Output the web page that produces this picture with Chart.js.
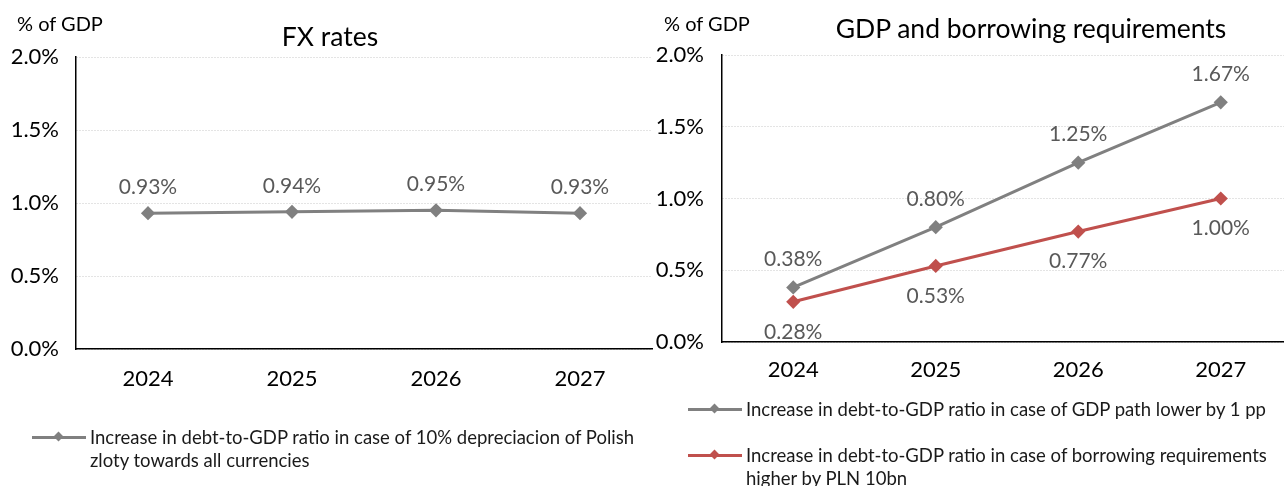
<!DOCTYPE html>
<html>
<head>
<meta charset="utf-8">
<script src="https://cdn.jsdelivr.net/npm/chart.js@4.4.1/dist/chart.umd.min.js"></script>
<style>
  html, body { margin: 0; padding: 0; background: #fff; overflow: hidden; }
  body { width: 1284px; height: 486px; position: relative; font-family: Lato, "Open Sans", sans-serif; color: #000; }
  .panel { position: absolute; top: 0; height: 486px; }
  .unit { position: absolute; font-size: 20px; }
  .title { position: absolute; font-size: 26.5px; white-space: nowrap; transform: translateX(-50%); }
  .legend-item { position: absolute; display: flex; font-size: 18.5px; line-height: 23px; color: #1a1a1a; }
  .legend-key { position: relative; width: 54px; height: 23px; flex: none; margin-right: 4px; }
  .legend-key .ln { position: absolute; left: 0; right: 0; top: 10px; height: 3px; }
  .legend-key .dm { position: absolute; left: 23px; top: 7px; width: 7px; height: 7px; transform: rotate(45deg); }
</style>
</head>
<body>
  <div class="panel" style="left:0;width:660px"><canvas id="fx-chart"></canvas></div>
  <div class="panel" style="left:640px;width:660px"><canvas id="gdp-chart"></canvas></div>

  <div class="unit" style="left:17px;top:11px">% of GDP</div>
  <div class="title" style="left:330px;top:20px">FX rates</div>
  <div class="unit" style="left:664px;top:11px">% of GDP</div>
  <div class="title" style="left:1031px;top:12px">GDP and borrowing requirements</div>

  <div class="legend-item" style="left:32px;top:426px;width:605px">
    <div class="legend-key"><div class="ln" style="background:#808080"></div><div class="dm" style="background:#808080"></div></div>
    <div>Increase in debt-to-GDP ratio in case of 10% depreciacion of Polish zloty towards all currencies</div>
  </div>
  <div class="legend-item" style="left:688px;top:398px;width:590px">
    <div class="legend-key"><div class="ln" style="background:#808080"></div><div class="dm" style="background:#808080"></div></div>
    <div>Increase in debt-to-GDP ratio in case of GDP path lower by 1 pp</div>
  </div>
  <div class="legend-item" style="left:688px;top:444px;width:580px">
    <div class="legend-key"><div class="ln" style="background:#c0504d"></div><div class="dm" style="background:#c0504d"></div></div>
    <div>Increase in debt-to-GDP ratio in case of borrowing requirements higher by PLN 10bn</div>
  </div>

<script>
// years on the x axis
const years = ['2024', '2025', '2026', '2027'];
// y axis ticks, % of GDP
const yTicks = [0, 0.5, 1.0, 1.5, 2.0];

// FX scenario
const fxDepreciation = [0.93, 0.94, 0.95, 0.93];
// GDP / borrowing scenarios
const gdpLower = [0.38, 0.80, 1.25, 1.67];
const borrowingHigher = [0.28, 0.53, 0.77, 1.00];

const GREY = '#808080';
const RED = '#c0504d';
const FONT = 'Lato, "Open Sans", sans-serif';

// writes the value next to each point, shifted by dataset.labelOffset
const valueLabels = {
    id: 'valueLabels',
    afterDatasetsDraw(chart) {
        const ctx = chart.ctx;
        ctx.save();
        ctx.font = '21px ' + FONT;
        ctx.fillStyle = '#595959';
        ctx.textAlign = 'center';
        ctx.textBaseline = 'middle';
        chart.data.datasets.forEach((ds, i) => {
            const meta = chart.getDatasetMeta(i);
            meta.data.forEach((pt, j) => {
                ctx.fillText(ds.data[j].toFixed(2) + '%', pt.x, pt.y + ds.labelOffset);
            });
        });
        ctx.restore();
    }
};

function lineSet(label, data, color, labelOffset) {
    return {
        label, data, labelOffset,
        borderColor: color,
        backgroundColor: color,
        borderWidth: 3,
        pointStyle: 'rectRot',
        pointRadius: 5,
        pointHoverRadius: 5,
        tension: 0
    };
}

function makeChart(id, datasets, opts) {
    return new Chart(document.getElementById(id), {
        type: 'line',
        data: { labels: years, datasets },
        options: {
            responsive: true,
            maintainAspectRatio: false,
            animation: false,
            layout: { padding: { top: opts.top, right: opts.right, left: 0, bottom: 0 } },
            plugins: { legend: { display: false }, tooltip: { enabled: false } },
            scales: {
                x: {
                    offset: true,
                    grid: { display: false, drawTicks: false, offset: true },
                    border: { display: true, color: '#000', width: 1.5 },
                    ticks: { color: '#000', font: { family: FONT, size: 22 }, padding: opts.xPad },
                    afterFit: s => { s.height = opts.xHeight; }
                },
                y: {
                    min: yTicks[0],
                    max: yTicks[yTicks.length - 1],
                    afterBuildTicks: s => { s.ticks = yTicks.map(v => ({ value: v })); },
                    grid: { color: '#c8c8c8', lineWidth: 1, drawTicks: false },
                    border: { display: true, color: '#000', width: 1.5, dash: [1, 2] },
                    ticks: {
                        color: '#000',
                        font: { family: FONT, size: 22 },
                        padding: opts.yPad,
                        callback: v => v.toFixed(1) + '%'
                    },
                    afterFit: s => { s.width = opts.yWidth; }
                }
            }
        },
        plugins: [valueLabels]
    });
}

makeChart('fx-chart', [
    lineSet('Increase in debt-to-GDP ratio in case of 10% depreciacion of Polish zloty towards all currencies', fxDepreciation, GREY, -26)
], { top: 57, right: 8, xHeight: 137, yWidth: 76, xPad: 17, yPad: 17 });

makeChart('gdp-chart', [
    lineSet('Increase in debt-to-GDP ratio in case of GDP path lower by 1 pp', gdpLower, GREY, -28),
    lineSet('Increase in debt-to-GDP ratio in case of borrowing requirements higher by PLN 10bn', borrowingHigher, RED, 30)
], { top: 55, right: 2, xHeight: 144, yWidth: 82, xPad: 15, yPad: 18 });
</script>
</body>
</html>
